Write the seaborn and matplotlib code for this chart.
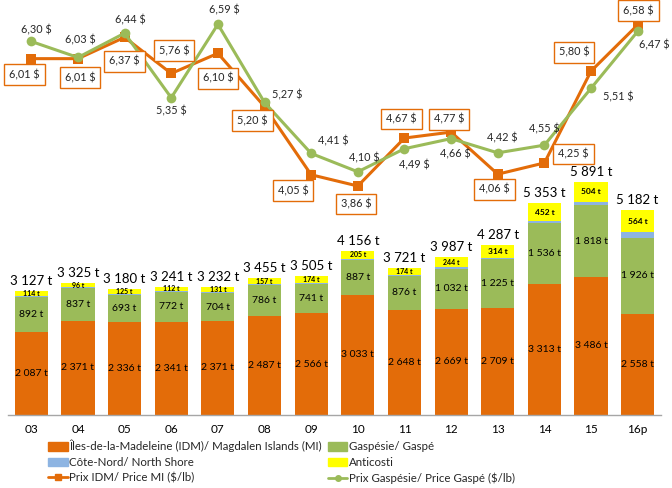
import numpy as np
import pandas as pd
import matplotlib
matplotlib.use("Agg")
import matplotlib.pyplot as plt
import seaborn as sns
from matplotlib.patches import Patch
from matplotlib.lines import Line2D

# ---------------- data ----------------
years = ["03", "04", "05", "06", "07", "08", "09", "10", "11", "12", "13", "14", "15", "16p"]
idm = [2087, 2371, 2336, 2341, 2371, 2487, 2566, 3033, 2648, 2669, 2709, 3313, 3486, 2558]
gaspe = [892, 837, 693, 772, 704, 786, 741, 887, 876, 1032, 1225, 1536, 1818, 1926]
cote_nord = [34, 21, 26, 16, 26, 25, 24, 31, 23, 42, 39, 52, 83, 134]
anticosti = [114, 96, 125, 112, 131, 157, 174, 205, 174, 244, 314, 452, 504, 564]
totals = [3127, 3325, 3180, 3241, 3232, 3455, 3505, 4156, 3721, 3987, 4287, 5353, 5891, 5182]
price_idm = [6.01, 6.01, 6.37, 5.76, 6.10, 5.20, 4.05, 3.86, 4.67, 4.77, 4.06, 4.25, 5.80, 6.58]
price_gaspe = [6.30, 6.03, 6.44, 5.35, 6.59, 5.27, 4.41, 4.10, 4.49, 4.66, 4.42, 4.55, 5.51, 6.47]

series_names = ["Îles-de-la-Madeleine (IDM)/ Magdalen Islands (MI)", "Gaspésie/ Gaspé",
                "Côte-Nord/ North Shore", "Anticosti"]
line_names = ["Prix IDM/ Price MI ($/lb)", "Prix Gaspésie/ Price Gaspé ($/lb)"]

# label offsets (pixels) for price labels
off_idm = [(-7, -16), (2, -19), (0, -24), (3, 23), (0, -25), (-12, -14), (-18, -16),
           (-2, -18), (-3, 19), (-2, 13), (-3, -15), (29, 9), (-17, 19), (1, 14)]
off_gaspe = [(5, 12), (2, 18), (6, 13), (0, -13), (6, 14), (23, 8), (22, 13),
             (6, 14), (10, -16), (4, -15), (5, 15), (0, 16), (27, -9), (17, -13)]

ORANGE = "#E36C09"
GREEN = "#9BBB59"
BLUE = "#8DB4E2"
YELLOW = "#FFFF00"

sns.set_theme(style="white")
plt.rcParams["font.family"] = ["Lato", "DejaVu Sans"]

df = pd.DataFrame({"year": years, "idm": idm, "gaspe": gaspe,
                   "cote": cote_nord, "anti": anticosti})
df["c1"] = df["idm"]
df["c2"] = df["c1"] + df["gaspe"]
df["c3"] = df["c2"] + df["cote"]
df["c4"] = df["c3"] + df["anti"]

fig = plt.figure(figsize=(6.72, 4.88), dpi=100)
ax = fig.add_axes([8 / 672, 73.3 / 488, 653 / 672, 414.7 / 488])

W = 0.71
for col, colr in [("c4", YELLOW), ("c3", BLUE), ("c2", GREEN), ("c1", ORANGE)]:
    sns.barplot(data=df, x="year", y=col, color=colr, width=W, saturation=1,
                errorbar=None, ax=ax, linewidth=0)

ax.set_ylim(0, 10500)
ax.set_xlim(-0.5, 13.5)
ax.set_xlabel("")
ax.set_ylabel("")
ax.set_yticks([])
for s in ["top", "left", "right"]:
    ax.spines[s].set_visible(False)
ax.spines["bottom"].set_color("#A6A6A6")
ax.spines["bottom"].set_linewidth(1)
ax.set_xticks(range(len(years)))
ax.set_xticklabels(years, fontsize=8.5, color="#000000")
ax.set_xticks(np.arange(-0.5, 14, 1), minor=True)
ax.tick_params(axis="x", which="major", length=0, pad=7)
ax.tick_params(axis="x", which="minor", length=5, color="#A6A6A6", direction="out", width=1)

# segment labels
def fmt_t(v):
    return f"{v:,}".replace(",", " ") + " t"

for i in range(len(years)):
    ax.text(i, idm[i] / 2, fmt_t(idm[i]), ha="center", va="center", fontsize=7.5, color="black")
    ax.text(i, idm[i] + gaspe[i] / 2, fmt_t(gaspe[i]), ha="center", va="center",
            fontsize=7.5, color="black")
    ytop = idm[i] + gaspe[i] + cote_nord[i]
    ax.text(i, ytop + anticosti[i] / 2, fmt_t(anticosti[i]), ha="center", va="center",
            fontsize=5 if anticosti[i] < 300 else 6, fontweight="bold", color="black")
    ax.annotate(fmt_t(totals[i]), xy=(i, totals[i]), xytext=(0, 4), textcoords="offset pixels",
                ha="center", va="bottom", fontsize=9.5, color="black")

# price lines
ax2 = ax.twinx()
x = np.arange(len(years))
sns.lineplot(x=x, y=price_idm, color=ORANGE, lw=2.2, marker="s", markersize=7,
             markeredgewidth=0, ax=ax2)
sns.lineplot(x=x, y=price_gaspe, color=GREEN, lw=2.2, marker="o", markersize=7,
             markeredgewidth=0, ax=ax2)
ax2.set_ylim(0, 7.0)
ax2.set_yticks([])
for s in ax2.spines.values():
    s.set_visible(False)

def fmt_p(v):
    return f"{v:.2f}".replace(".", ",") + " $"

for i in range(len(years)):
    ax2.annotate(fmt_p(price_idm[i]), xy=(i, price_idm[i]), xytext=off_idm[i],
                 textcoords="offset pixels", ha="center", va="center", fontsize=7.8,
                 bbox=dict(boxstyle="square,pad=0.45", fc="white", ec=ORANGE, lw=1))
    ax2.annotate(fmt_p(price_gaspe[i]), xy=(i, price_gaspe[i]), xytext=off_gaspe[i],
                 textcoords="offset pixels", ha="center", va="center", fontsize=7.8)

handles = [Patch(color=ORANGE), Patch(color=BLUE),
           Line2D([], [], color=ORANGE, lw=2, marker="s", markersize=4),
           Patch(color=GREEN), Patch(color=YELLOW),
           Line2D([], [], color=GREEN, lw=2, marker="o", markersize=4)]
labels = [series_names[0], series_names[2], line_names[0],
          series_names[1], series_names[3], line_names[1]]
fig.legend(handles, labels, loc="upper left", bbox_to_anchor=(48 / 672, 1 - 440 / 488),
           ncol=2, frameon=False, fontsize=8.3, handlelength=1.7, handleheight=0.7,
           handletextpad=0.15, labelspacing=0.38, columnspacing=0.5, borderpad=0,
           borderaxespad=0)

fig.savefig("out.png", dpi=100)
